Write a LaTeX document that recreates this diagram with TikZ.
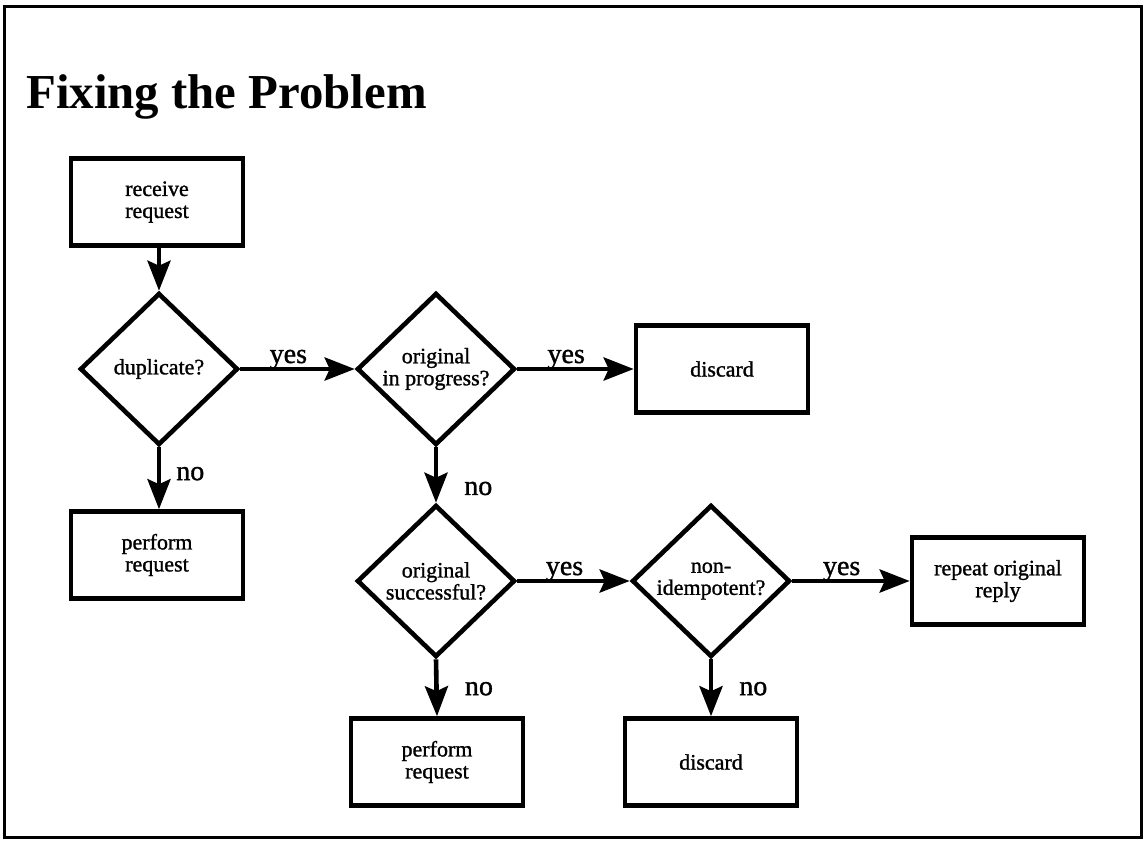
\documentclass[tikz,border=0pt]{standalone}
\usepackage{fontspec}
\setmainfont{Liberation Serif}
\newfontfamily\slidefont[FakeBold=1.2]{Liberation Serif}
\usetikzlibrary{arrows.meta, shapes.geometric}
\tikzset{
  every picture/.style={line width=2.3pt},
  box/.style={draw, rectangle, minimum width=86pt, minimum height=43.5pt, align=center, inner sep=2pt, font=\slidefont\fontsize{11}{11}\selectfont},
  ask/.style={draw, diamond, minimum width=79pt, minimum height=76pt, inner sep=0pt, align=center, font=\slidefont\fontsize{11}{11}\selectfont},
  arrow/.style={-{Stealth[length=15pt, width=11.5pt, inset=2.5pt]}, line width=2.3pt},
  yeslbl/.style={font=\slidefont\fontsize{14}{16}\selectfont, inner sep=0pt, anchor=base, pos=.42, yshift=3pt},
  nolbl/.style={font=\slidefont\fontsize{14}{16}\selectfont, inner sep=0pt, anchor=base west},
  title/.style={font=\fontsize{24.4}{29}\selectfont\bfseries, inner sep=0pt, anchor=base west},
}

\begin{document}
\begin{tikzpicture}[x=0.5pt, y=-0.5pt]
  \useasboundingbox (0,0) rectangle (1143,840);
  \draw[line width=1.5pt] (4,7) rectangle (1141,837);
  \node[title] (ttl) at (24,108) {Fixing the Problem};
  % first column
  \node[box] (recv) at (157,202) {receive\\request};
  \node[ask] (dup) at (159,369) {duplicate?};
  \node[box] (perf1) at (157,555) {perform\\request};
  % second column
  \node[ask] (prog) at (436,369) {original\\in progress?};
  \node[box] (disc1) at (722,369) {discard};
  \node[ask] (succ) at (436,581) {original\\successful?};
  \node[box] (perf2) at (437,762) {perform\\request};
  % third column
  \node[ask] (idem) at (711,581) {non-\\idempotent?};
  \node[box] (disc2) at (711,762) {discard};
  \node[box] (repl) at (998,581) {repeat original\\reply};
  % connectors
  \draw[arrow] (dup.north |- recv.south) -- (dup.north);
  \foreach \a/\b in {dup/prog, prog/disc1, succ/idem, idem/repl}
    \draw[arrow] (\a.east) -- node[yeslbl] {yes} (\b.west);
  \draw[arrow] (dup.south) -- node[nolbl, pos=.53, xshift=7.5pt] {no} (dup.south |- perf1.north);
  \foreach \a/\b/\p in {prog/succ/.86, succ/perf2/.63, idem/disc2/.63}
    \draw[arrow] (\a.south) -- node[nolbl, pos=\p, xshift=13pt] {no} (\b.north);
\end{tikzpicture}
\end{document}
